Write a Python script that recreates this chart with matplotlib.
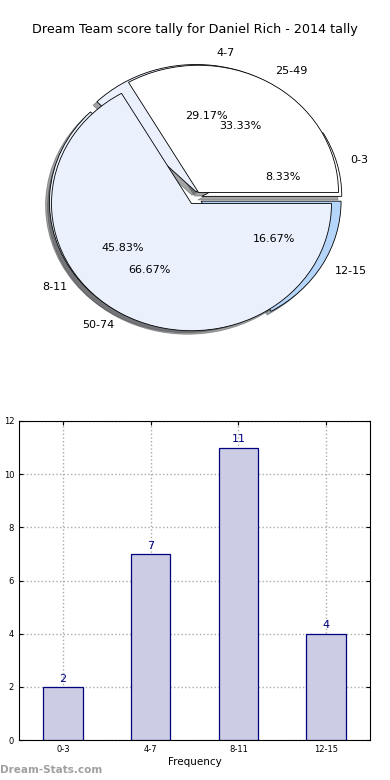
import matplotlib
matplotlib.use("Agg")
import matplotlib.pyplot as plt

title = "Dream Team score tally for Daniel Rich - 2014 tally"
score_labels = ["0-3", "4-7", "8-11", "12-15"]
score_counts = [2, 7, 11, 4]
range_labels = ["25-49", "50-74"]
range_counts = [1, 2]
pie1_colors = ["#ffffff", "#eaf1fd", "#eaf1fd", "#b5d5fb"]
pie2_colors = ["#ffffff", "#eaf1fd"]

fig = plt.figure(figsize=(3.9, 7.8), dpi=100)
fig.text(0.5, 1 - 30 / 780, title, ha="center", va="center", fontsize=9.2)

ax1 = fig.add_axes([20 / 390, 1 - 357 / 780, 350 / 390, 318 / 780])
wp = dict(edgecolor="black", linewidth=0.6)
ax1.pie(score_counts, labels=score_labels, colors=pie1_colors,
        explode=[0.05] * len(score_counts), autopct="%1.2f%%", shadow=True,
        wedgeprops=wp, textprops=dict(fontsize=8))
ax1.pie(range_counts, labels=range_labels, colors=pie2_colors,
        explode=[0.05] * len(range_counts), autopct="%1.2f%%", shadow=True,
        wedgeprops=wp, textprops=dict(fontsize=8))
ax1.set_aspect("auto")
ax1.set_xlim(-1.25, 1.25)
ax1.set_ylim(-1.25, 1.25)
ax1.axis("off")

ax2 = fig.add_axes([19 / 390, 40 / 780, 351 / 390, 319 / 780])
x = list(range(len(score_labels)))
ax2.bar(x, score_counts, width=0.45, color="#ccccE5", edgecolor="navy",
        linewidth=0.9, zorder=3)
for xi, v in zip(x, score_counts):
    ax2.text(xi, v + 0.12, str(v), ha="center", va="bottom", color="navy",
             fontsize=8, zorder=4)
ax2.set_xlim(-0.5, len(score_labels) - 0.5)
ax2.set_ylim(0, 12)
ax2.set_yticks(range(0, 13, 2))
ax2.set_xticks(x)
ax2.set_xticklabels(score_labels)
ax2.tick_params(labelsize=6, direction="in", top=True, right=True, length=3)
ax2.grid(True, linestyle=":", color="#aaaaaa", linewidth=1, zorder=0)
ax2.set_axisbelow(True)
ax2.set_xlabel("Frequency", fontsize=7.5, labelpad=2)
ax2.set_ylabel("Stat Item Tally", fontsize=7.5)
ax2.yaxis.set_label_coords(-0.062, 0.5)

fig.text(0.0, 1 - 770 / 780, "Dream-Stats.com", ha="left", va="center",
         fontsize=7.5, color="#a0a0a0", fontweight="bold")

fig.savefig("out.png", dpi=100)
